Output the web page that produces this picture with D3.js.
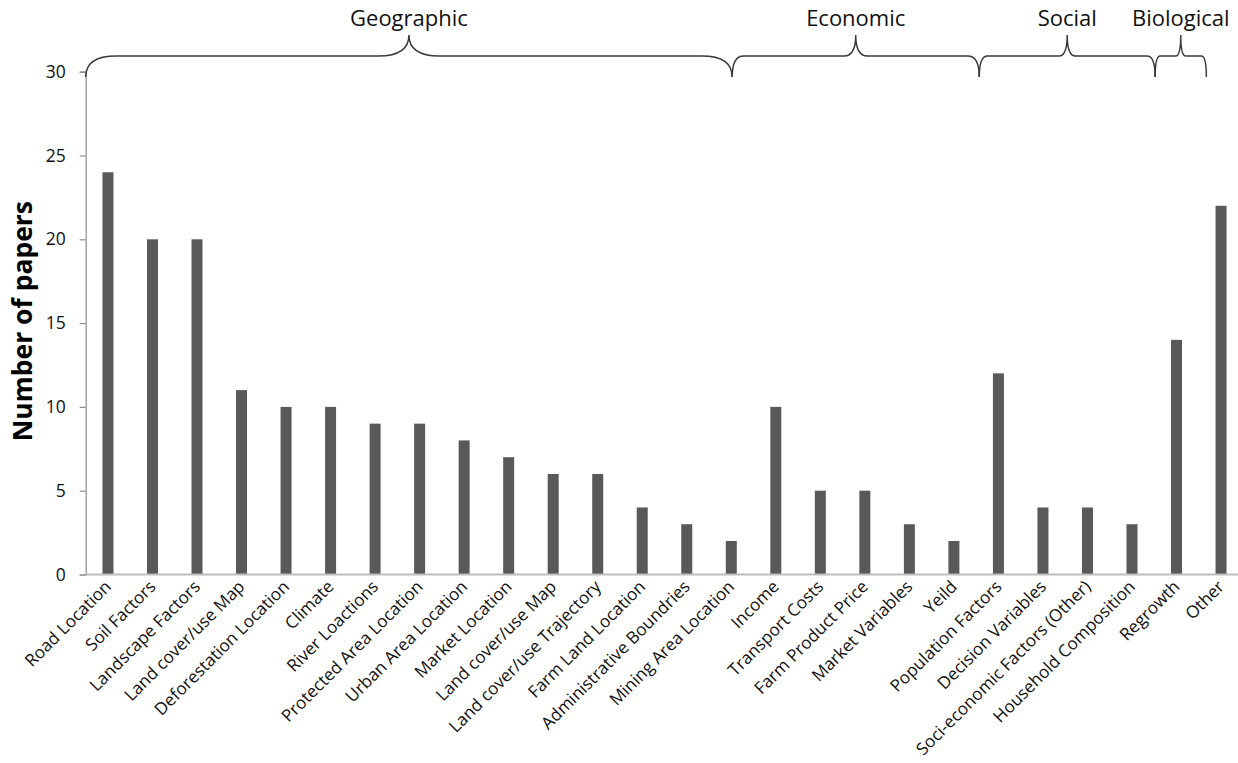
<!DOCTYPE html>
<html>
<head>
<meta charset="utf-8">
<script src="https://cdn.jsdelivr.net/npm/d3@7/dist/d3.min.js"></script>
<style>
  html, body { margin: 0; padding: 0; background: #fff; }
  svg { display: block; font-family: "Open Sans", "Noto Sans", sans-serif; }
</style>
</head>
<body>
<svg id="chart" width="1238" height="763"></svg>
<script>
// Factors used in the reviewed papers
const categories = [
  "Road Location", "Soil Factors", "Landscape Factors", "Land cover/use Map",
  "Deforestation Location", "Climate", "River Loactions", "Protected Area Location",
  "Urban Area Location", "Market Location", "Land cover/use Map", "Land cover/use Trajectory",
  "Farm Land Location", "Administrative Boundries", "Mining Area Location",
  "Income", "Transport Costs", "Farm Product Price", "Market Variables", "Yeild",
  "Population Factors", "Decision Variables", "Soci-economic Factors (Other)",
  "Household Composition", "Regrowth", "Other"
];
const papers = [24, 20, 20, 11, 10, 10, 9, 9, 8, 7, 6, 6, 4, 3, 2,
                10, 5, 5, 3, 2, 12, 4, 4, 3, 14, 22];
const yTicks = [0, 5, 10, 15, 20, 25, 30];

// Factor groups, in category index units (start/end along the x axis)
const groupNames = ["Geographic", "Economic", "Social", "Biological"];
const groupStart = [-0.5, 14.02, 19.57, 23.52];
const groupEnd   = [14.02, 19.57, 23.52, 24.67];

const svg = d3.select("#chart");
const margin = { left: 85.7, right: 1243.3, top: 71.7, bottom: 574.5 };

// Keep category slots unique even where labels repeat
const idx = categories.map((d, i) => i);
const x = d3.scaleBand()
  .domain(idx)
  .range([margin.left, margin.right])
  .paddingInner(0.753)
  .paddingOuter(0.753 / 2);
const step = x.step();
const xPos = v => margin.left + (v + 0.5) * step;

const y = d3.scaleLinear().domain([0, 30]).range([margin.bottom, margin.top]);

// Bars
svg.append("g").selectAll("rect")
  .data(papers)
  .join("rect")
  .attr("x", (d, i) => x(i))
  .attr("width", x.bandwidth())
  .attr("y", d => y(d))
  .attr("height", d => y(0) - y(d))
  .attr("fill", "#595959");

// Y axis
const yAxis = svg.append("g")
  .attr("transform", `translate(${margin.left},0)`)
  .call(d3.axisLeft(y).tickValues(yTicks).tickSize(6).tickPadding(14));
yAxis.attr("font-size", null).attr("font-family", null);
yAxis.select(".domain").attr("stroke", "#8c8c8c").attr("stroke-width", 1.2);
yAxis.selectAll(".tick line").attr("stroke", "#8c8c8c").attr("stroke-width", 1.2);
yAxis.selectAll(".tick text")
  .style("font-size", "17.5px").attr("fill", "#111");

// X axis
const xAxis = svg.append("g")
  .attr("transform", `translate(0,${margin.bottom})`)
  .call(d3.axisBottom(x).tickSize(0).tickFormat(i => categories[i]));
xAxis.attr("font-size", null).attr("font-family", null);
xAxis.select(".domain").attr("stroke", "#bdbdbd").attr("stroke-width", 2)
  .attr("d", `M${margin.left},0H1238`);
xAxis.selectAll(".tick text")
  .style("font-size", "17.1px").attr("fill", "#111")
  .attr("text-anchor", "end")
  .attr("transform", "translate(0,9) rotate(-45)")
  .attr("dy", "0.35em")
  .attr("y", 0).attr("x", 0);

// Y axis title
svg.append("text")
  .attr("transform", `translate(32,${(margin.top + margin.bottom) / 2 - 2}) rotate(-90)`)
  .attr("text-anchor", "middle")
  .style("font-size", "26.5px").attr("font-weight", "bold").attr("fill", "#000")
  .text("Number of papers");

// Group braces
const yTop = 35, yMid = 56, yEnd = 77;
const braces = svg.append("g");
groupNames.forEach((name, i) => {
  const x1 = xPos(groupStart[i]), x2 = xPos(groupEnd[i]);
  const xm = (x1 + x2) / 2;
  const c = Math.max(5, 0.047 * (x2 - x1));
  const p = d3.path();
  p.moveTo(x1, yEnd);
  p.quadraticCurveTo(x1, yMid, x1 + c, yMid);
  p.lineTo(xm - c, yMid);
  p.quadraticCurveTo(xm, yMid, xm, yTop);
  p.quadraticCurveTo(xm, yMid, xm + c, yMid);
  p.lineTo(x2 - c, yMid);
  p.quadraticCurveTo(x2, yMid, x2, yEnd);
  braces.append("path")
    .attr("d", p.toString())
    .attr("fill", "none")
    .attr("stroke", "#3a3a3a")
    .attr("stroke-width", 1.5);
  braces.append("text")
    .attr("x", xm).attr("y", 26)
    .attr("text-anchor", "middle")
    .style("font-size", "22px").attr("fill", "#111")
    .text(name);
});
</script>
</body>
</html>
